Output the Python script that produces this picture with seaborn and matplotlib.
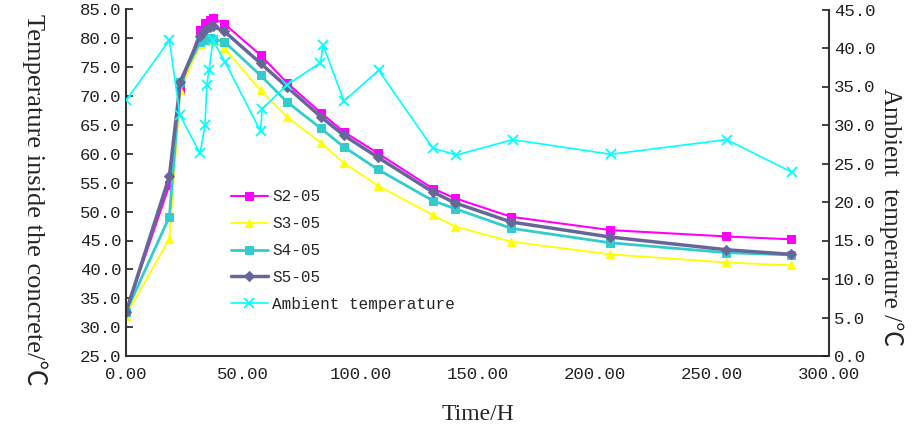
import numpy as np
import pandas as pd
import matplotlib
matplotlib.use("Agg")
import matplotlib.pyplot as plt
import seaborn as sns

# time (h) of the concrete readings
time_h = [0, 18.5, 23.2, 31.6, 33.7, 35.8, 37.1, 42.0, 57.4, 68.7, 83.2, 93.0,
          107.5, 130.9, 140.5, 164.4, 206.7, 256.2, 283.9]

s2 = [32.6, 54.6, 71.0, 81.4, 82.6, 83.2, 83.5, 82.5, 77.1, 72.3, 67.1, 63.8,
      60.1, 54.0, 52.3, 49.1, 46.8, 45.7, 45.2]
s3 = [32.0, 45.3, 71.0, 79.0, 79.5, 79.8, 79.6, 78.3, 71.0, 66.4, 61.9, 58.4,
      54.5, 49.4, 47.4, 44.8, 42.6, 41.2, 40.7]
s4 = [32.6, 49.1, 72.5, 79.3, 79.8, 80.0, 79.9, 79.4, 73.6, 69.0, 64.4, 61.2,
      57.3, 51.9, 50.5, 47.1, 44.6, 42.9, 42.5]
s5 = [32.6, 56.1, 72.5, 80.4, 81.4, 82.0, 82.1, 81.2, 75.7, 71.6, 66.4, 63.2,
      59.4, 53.4, 51.5, 48.2, 45.6, 43.4, 42.6]

# ambient readings have their own times
amb_time = [0, 18.5, 23.0, 31.6, 33.7, 34.5, 35.4, 37.1, 42.2, 57.4, 58.1, 68.7,
            83.0, 84.1, 93.0, 107.8, 130.9, 141.0, 165.0, 206.8, 256.3, 284.0]
amb = [33.2, 41.0, 31.3, 26.3, 30.0, 35.2, 37.1, 41.0, 38.2, 29.2, 32.1, 35.2,
       38.1, 40.4, 33.1, 37.1, 27.0, 26.1, 28.1, 26.2, 28.1, 23.9]

sns.set_style("white")
mono = "Liberation Mono"
serif = ["Liberation Serif", "Noto Sans CJK SC", "DejaVu Sans"]

fig = plt.figure(figsize=(9.22, 4.32), dpi=100)
ax = fig.add_axes([126 / 922, 1 - 356 / 432, 703 / 922, 346.5 / 432])
ax2 = ax.twinx()

df = pd.DataFrame({"t": time_h, "S2-05": s2, "S3-05": s3, "S4-05": s4, "S5-05": s5})
styles = [
    ("S2-05", "#FF00FF", "s", 6, 1.5),
    ("S3-05", "#FFFF00", "^", 6, 1.3),
    ("S4-05", "#33CCCC", "s", 6, 2.0),
    ("S5-05", "#666699", "D", 5, 2.5),
]
for name, col, mk, ms, lw in styles:
    sns.lineplot(data=df, x="t", y=name, ax=ax, color=col, marker=mk,
                 markersize=ms, linewidth=lw, markeredgecolor=col, label=name,
                 legend=False)

amb_df = pd.DataFrame({"t": amb_time, "amb": amb})
sns.lineplot(data=amb_df, x="t", y="amb", ax=ax2, color="#00FFFF", marker="x",
             markersize=7, markeredgewidth=1.3, markeredgecolor="#00FFFF",
             linewidth=1.2, label="Ambient temperature", legend=False)

ax.set_xlim(0, 300)
ax.set_ylim(25, 85)
ax2.set_ylim(0, 45)
ax.set_xticks(np.arange(0, 301, 50))
ax.set_xticklabels([f"{v:.2f}" for v in np.arange(0, 301, 50)])
ax.set_yticks(np.arange(25, 86, 5))
ax.set_yticklabels([f"{v:.1f}" for v in np.arange(25, 86, 5)])
ax2.set_yticks(np.arange(0, 46, 5))
ax2.set_yticklabels([f"{v:.1f}" for v in np.arange(0, 46, 5)])

for a in (ax, ax2):
    a.tick_params(direction="in", length=5, width=1.2, colors="#222222",
                  labelsize=12.5)
    for lab in a.get_xticklabels() + a.get_yticklabels():
        lab.set_fontfamily(mono)
    a.spines["top"].set_visible(False)
    for s in a.spines.values():
        s.set_color("#333333")
        s.set_linewidth(1.5)
ax.spines["right"].set_visible(False)
ax2.spines["left"].set_visible(False)
ax2.spines["bottom"].set_visible(False)
ax.tick_params(axis="x", pad=8)

ax.set_xlabel("Time/H", fontfamily=serif, fontsize=17, labelpad=16)
ax.set_ylabel("Temperature inside the concrete/℃", fontfamily=serif,
              fontsize=19, rotation=270)
ax.yaxis.set_label_coords(-0.148, 0.45)
ax2.set_ylabel("Ambient  temperature /℃", fontfamily=serif, fontsize=18,
               rotation=270)
ax2.yaxis.set_label_coords(1.106, 0.40)

h1, l1 = ax.get_legend_handles_labels()
h2, l2 = ax2.get_legend_handles_labels()
ax.legend(h1 + h2, l1 + l2, loc="upper left", bbox_to_anchor=(0.14, 0.50),
          frameon=False, prop={"family": mono, "size": 11.5},
          handlelength=2.3, handletextpad=0.3, labelspacing=0.75,
          borderaxespad=0)

fig.savefig("out.png", dpi=100)
